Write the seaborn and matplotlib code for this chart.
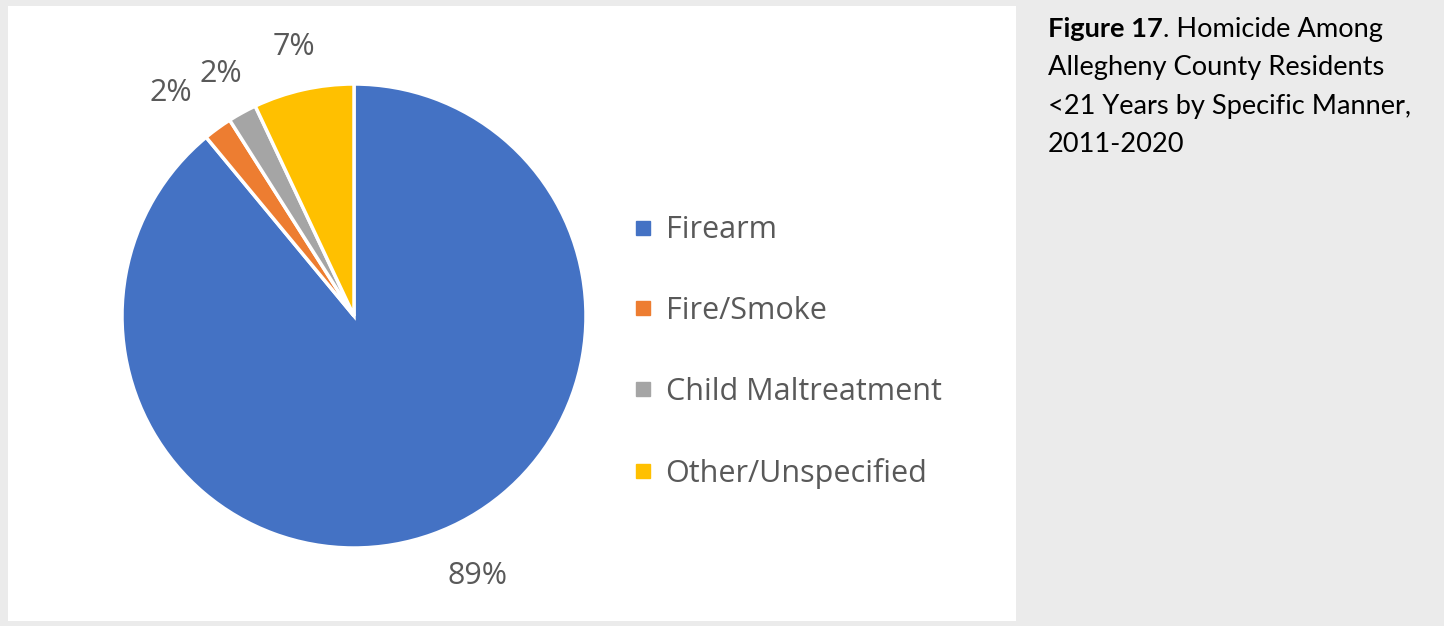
import matplotlib
matplotlib.use("Agg")
import matplotlib.pyplot as plt
from matplotlib.patches import Rectangle
from matplotlib.lines import Line2D
import seaborn as sns

# ---- data ----
categories = ["Firearm", "Fire/Smoke", "Child Maltreatment", "Other/Unspecified"]
shares = [89, 2, 2, 7]
colors = ["#4472C4", "#ED7D31", "#A5A5A5", "#FFC000"]
caption_bold = "Figure 17"
caption_rest = [". Homicide Among", "Allegheny County Residents",
                "<21 Years by Specific Manner,", "2011-2020"]

sns.set_theme(style="white")
plt.rcParams["font.family"] = ["Open Sans", "DejaVu Sans"]

W, H = 1444, 626
fig = plt.figure(figsize=(W / 100, H / 100), dpi=100, facecolor="#EBEBEB")

# white chart panel
fig.patches.append(Rectangle((8 / W, 1 - 621 / H), 1008 / W, 615 / H,
                             transform=fig.transFigure, facecolor="white",
                             edgecolor="none", zorder=-5))

# pie axes: center (354,316) px, radius 232 px
R = 232
lim = 1.3
side = 2 * lim * R
cx, cy = 354, H - 316
ax = fig.add_axes([(cx - side / 2) / W, (cy - side / 2) / H, side / W, side / H])
ax.set_zorder(2)
ax.patch.set_visible(False)

wedges, texts, autotexts = ax.pie(
    shares, colors=colors, startangle=90, counterclock=False,
    autopct="%1.0f%%", pctdistance=1.19,
    wedgeprops=dict(edgecolor="white", linewidth=2.5),
    textprops=dict(color="#595959", fontsize=22),
)
# outside-end label alignment (style only)
label_ha = ["left", "right", "center", "center"]
for at, ha in zip(autotexts, label_ha):
    at.set_ha(ha)
ax.set_xlim(-lim, lim)
ax.set_ylim(-lim, lim)
ax.set_aspect("equal")
ax.axis("off")

handles = [Line2D([], [], marker="s", linestyle="none", markersize=10.5,
                  markerfacecolor=c, markeredgecolor=c) for c in colors]
fig.legend(handles, categories, loc="center left",
           bbox_to_anchor=(632 / W, 1 - 352 / H), frameon=False,
           fontsize=22, labelcolor="#595959", labelspacing=1.66,
           handlelength=0.7, handletextpad=0.4, borderpad=0, borderaxespad=0)

# caption
cap_font = ["Lato", "DejaVu Sans"]
cap_size = 19.6
x0 = 1048 / W
base0 = 37
step = 38.5
t = fig.text(x0, 1 - base0 / H, caption_bold, fontsize=cap_size, fontweight="bold",
             family=cap_font, color="black", va="baseline", ha="left")
fig.canvas.draw()
bb = t.get_window_extent()
fig.text(bb.x1 / W, 1 - base0 / H, caption_rest[0], fontsize=cap_size,
         family=cap_font, color="black", va="baseline", ha="left")
for i, line in enumerate(caption_rest[1:], start=1):
    fig.text(x0, 1 - (base0 + i * step) / H, line, fontsize=cap_size,
             family=cap_font, color="black", va="baseline", ha="left")

fig.savefig("out.png", dpi=100, facecolor=fig.get_facecolor())
